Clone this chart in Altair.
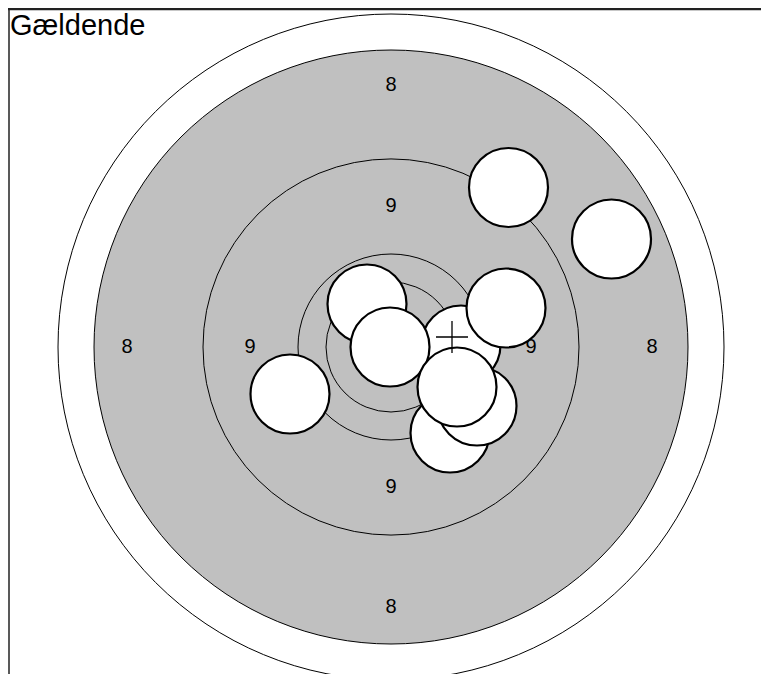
import altair as alt
import pandas as pd

# ---- data (units = pixels from the target centre, y upward) ----
ring_name = ["outer", "8", "9", "10", "inner"]
ring_radius = [333, 297, 188, 93, 65]

label_text = ["8", "8", "8", "8", "9", "9", "9", "9"]
label_x = [0, 0, -264, 261, 0, 0, -141, 140]
label_y = [262, -260, 0, 0, 141, -140, 0, 0]

# shots in drawing order (later ones on top)
shot_x = [-24, 70, -1, 115, 59, 86, 66, 117.5, 220.5, -101]
shot_y = [43, 2, 0, 39, -86, -59, -40, 159.5, 108, -47]
shot_radius = 39.5

mpi_x = [61]
mpi_y = [10]

title_text = ["Gældende"]
title_x = [-381]
title_y = [312]

frame_x = [-382, -213, -38]
frame_y1 = [338, 338, 338]
frame_y2 = [-327, 339, 339]

X_DOMAIN = [-383, 370]
Y_DOMAIN = [-327, 339]

rings = pd.DataFrame({"ring": ring_name, "r": ring_radius})
rings["x"] = 0
rings["y"] = 0
rings["size"] = (2 * rings["r"]) ** 2

labels = pd.DataFrame({"t": label_text, "x": label_x, "y": label_y})
shots = pd.DataFrame({"x": shot_x, "y": shot_y, "order": range(len(shot_x))})
shots["size"] = (2 * shot_radius) ** 2
mpi = pd.DataFrame({"x": mpi_x, "y": mpi_y})
title = pd.DataFrame({"t": title_text, "x": title_x, "y": title_y})
frame_v = pd.DataFrame({"x": frame_x, "y": frame_y1, "y2": frame_y2})
frame_h = pd.DataFrame({"x": [X_DOMAIN[0]], "x2": [X_DOMAIN[1]], "y": [338]})

xs = alt.Scale(domain=X_DOMAIN, nice=False, zero=False)
ys = alt.Scale(domain=Y_DOMAIN, nice=False, zero=False)
X = lambda f="x": alt.X(f, type="quantitative", scale=xs, axis=None)
Y = lambda f="y": alt.Y(f, type="quantitative", scale=ys, axis=None)

def ring_layer(name, fill, opacity):
    return alt.Chart(rings).transform_filter(
        alt.datum.ring == name
    ).mark_point(
        shape="circle", filled=True, fill=fill, fillOpacity=opacity,
        stroke="black", strokeWidth=1, opacity=1
    ).encode(x=X(), y=Y(), size=alt.Size("size:Q", scale=None))

outer = ring_layer("outer", "#ffffff", 1)
eight = ring_layer("8", "#c0c0c0", 1)
nine = ring_layer("9", "#c0c0c0", 0)
ten = ring_layer("10", "#c0c0c0", 0)
inner = ring_layer("inner", "#c0c0c0", 0)

label_layer = alt.Chart(labels).mark_text(
    font="Liberation Sans", fontSize=20, color="black",
    align="center", baseline="middle"
).encode(x=X(), y=Y(), text="t:N")

shot_layer = alt.Chart(shots).mark_point(
    shape="circle", filled=True, fill="white", fillOpacity=1,
    stroke="black", strokeWidth=2.2, opacity=1
).encode(x=X(), y=Y(), size=alt.Size("size:Q", scale=None),
         order=alt.Order("order:Q"))

mpi_layer = alt.Chart(mpi).mark_point(
    shape="M-1,0H1M0,-1V1", filled=False, stroke="black",
    strokeWidth=1.3, size=1024, opacity=1
).encode(x=X(), y=Y())

title_layer = alt.Chart(title).mark_text(
    font="Liberation Sans", fontSize=29, color="black",
    align="left", baseline="alphabetic"
).encode(x=X(), y=Y(), text="t:N")

frame_v_layer = alt.Chart(frame_v).mark_rule(color="#222222", strokeWidth=1.5).encode(
    x=X(), y=Y(), y2="y2:Q")
frame_h_layer = alt.Chart(frame_h).mark_rule(color="#222222", strokeWidth=2.5).encode(
    x=X(), x2="x2:Q", y=Y())

chart = alt.layer(
    outer, eight, nine, ten, inner, label_layer, shot_layer, mpi_layer,
    title_layer, frame_v_layer, frame_h_layer
).properties(
    width=753, height=666, padding=0, autosize="none", background="white"
).configure_view(stroke=None)

chart.save("out.html", embed_options={"renderer": "svg", "actions": False})
